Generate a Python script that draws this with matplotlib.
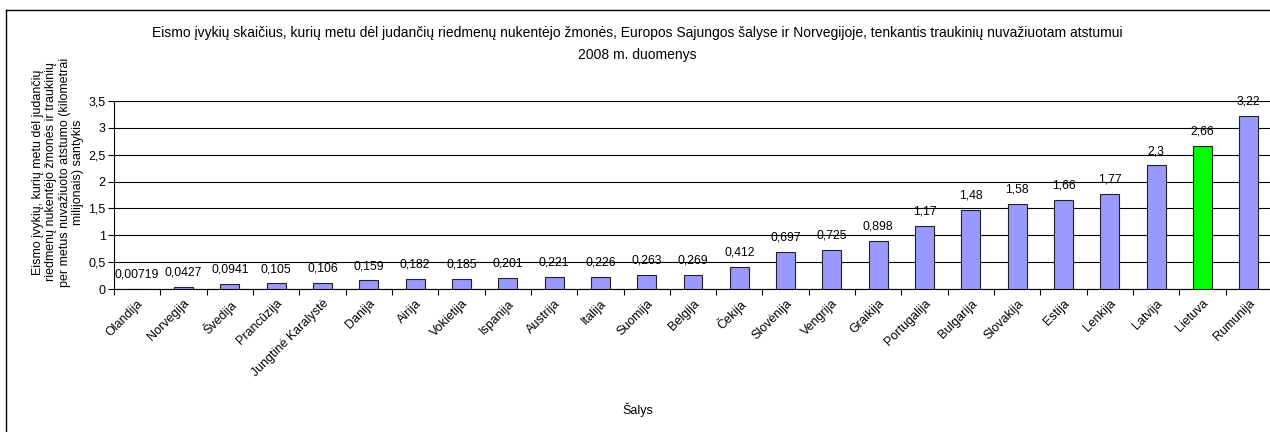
import matplotlib
matplotlib.use("Agg")
import matplotlib.pyplot as plt
from matplotlib.ticker import FuncFormatter, MultipleLocator, FixedLocator
from matplotlib.lines import Line2D

plt.rcParams['font.family'] = ['Liberation Sans', 'DejaVu Sans']

# --- data ---
countries = ["Olandija", "Norvegija", "Švedija", "Prancūzija", "Jungtinė Karalystė",
             "Danija", "Airija", "Vokietija", "Ispanija", "Austrija", "Italija",
             "Suomija", "Belgija", "Čekija", "Slovėnija", "Vengrija", "Graikija",
             "Portugalija", "Bulgarija", "Slovakija", "Estija", "Lenkija", "Latvija",
             "Lietuva", "Rumunija"]
values = [0.00719, 0.0427, 0.0941, 0.105, 0.106, 0.159, 0.182, 0.185, 0.201, 0.221,
          0.226, 0.263, 0.269, 0.412, 0.697, 0.725, 0.898, 1.17, 1.48, 1.58, 1.66,
          1.77, 2.3, 2.66, 3.22]
value_labels = ["0,00719", "0,0427", "0,0941", "0,105", "0,106", "0,159", "0,182",
                "0,185", "0,201", "0,221", "0,226", "0,263", "0,269", "0,412", "0,697",
                "0,725", "0,898", "1,17", "1,48", "1,58", "1,66", "1,77", "2,3",
                "2,66", "3,22"]
highlight = "Lietuva"

title1 = ("Eismo įvykių skaičius, kurių metu dėl judančių riedmenų nukentėjo žmonės, "
          "Europos Sajungos šalyse ir Norvegijoje, tenkantis traukinių nuvažiuotam atstumui")
title2 = "2008 m. duomenys"
ylabel = ("Eismo įvykių, kurių metu dėl judančių\nriedmenų nukentėjo žmonės ir traukinių\n"
          "per metus nuvažiuoto atstumo (kilometrai\nmilijonais) santykis")
xlabel = "Šalys"

W, H = 1270, 432
fig = plt.figure(figsize=(W / 100, H / 100), dpi=100)

# plot area in pixel coords: x 114..1272, y 101..289
ax = fig.add_axes([114 / W, (H - 289) / H, (1272 - 114) / W, (289 - 101) / H])

colors = ['#00FF00' if c == highlight else '#9999FF' for c in countries]
x = range(len(countries))
ax.bar(x, values, width=0.41, color=colors, edgecolor='#222222', linewidth=0.8, zorder=3)

for i, (v, lab) in enumerate(zip(values, value_labels)):
    ax.annotate(lab, (i, v), xytext=(0, 6), textcoords='offset points',
                ha='center', va='bottom', fontsize=8.8, zorder=4)

ax.set_xlim(-0.5, len(countries) - 0.5)
ax.set_ylim(0, 3.5)
ax.yaxis.set_major_locator(MultipleLocator(0.5))
ax.yaxis.set_major_formatter(FuncFormatter(lambda v, p: f"{v:g}".replace('.', ',')))
ax.grid(axis='y', color='black', linewidth=0.8, zorder=0)

ax.set_xticks(list(x))
ax.set_xticklabels(countries, rotation=45, ha='right', rotation_mode='anchor', fontsize=9)
ax.tick_params(axis='x', which='major', length=0, pad=6)
ax.xaxis.set_minor_locator(FixedLocator([i - 0.5 for i in range(len(countries) + 1)]))
ax.tick_params(axis='x', which='minor', length=4, width=0.8, direction='out')
ax.tick_params(axis='y', length=4, width=0.8, labelsize=9, pad=2)

for s in ['top', 'right']:
    ax.spines[s].set_visible(False)
ax.spines['left'].set_linewidth(0.8)
ax.spines['bottom'].set_linewidth(0.8)

fig.text(637 / W, 1 - 33 / H, title1, ha='center', va='center', fontsize=10)
fig.text(637 / W, 1 - 55 / H, title2, ha='center', va='center', fontsize=10)
fig.text(58 / W, 1 - 172 / H, ylabel, rotation=90, ha='center', va='center',
         fontsize=9, multialignment='center', linespacing=1.15)
fig.text(638 / W, 1 - 410 / H, xlabel, ha='center', va='center', fontsize=9)

# outer chart frame
fig.add_artist(Line2D([6 / W, 6 / W], [0, 1 - 10 / H], color='black', linewidth=1,
                      transform=fig.transFigure))
fig.add_artist(Line2D([6 / W, 1], [1 - 10 / H, 1 - 10 / H], color='black', linewidth=1,
                      transform=fig.transFigure))

fig.savefig("out.png", dpi=100)
